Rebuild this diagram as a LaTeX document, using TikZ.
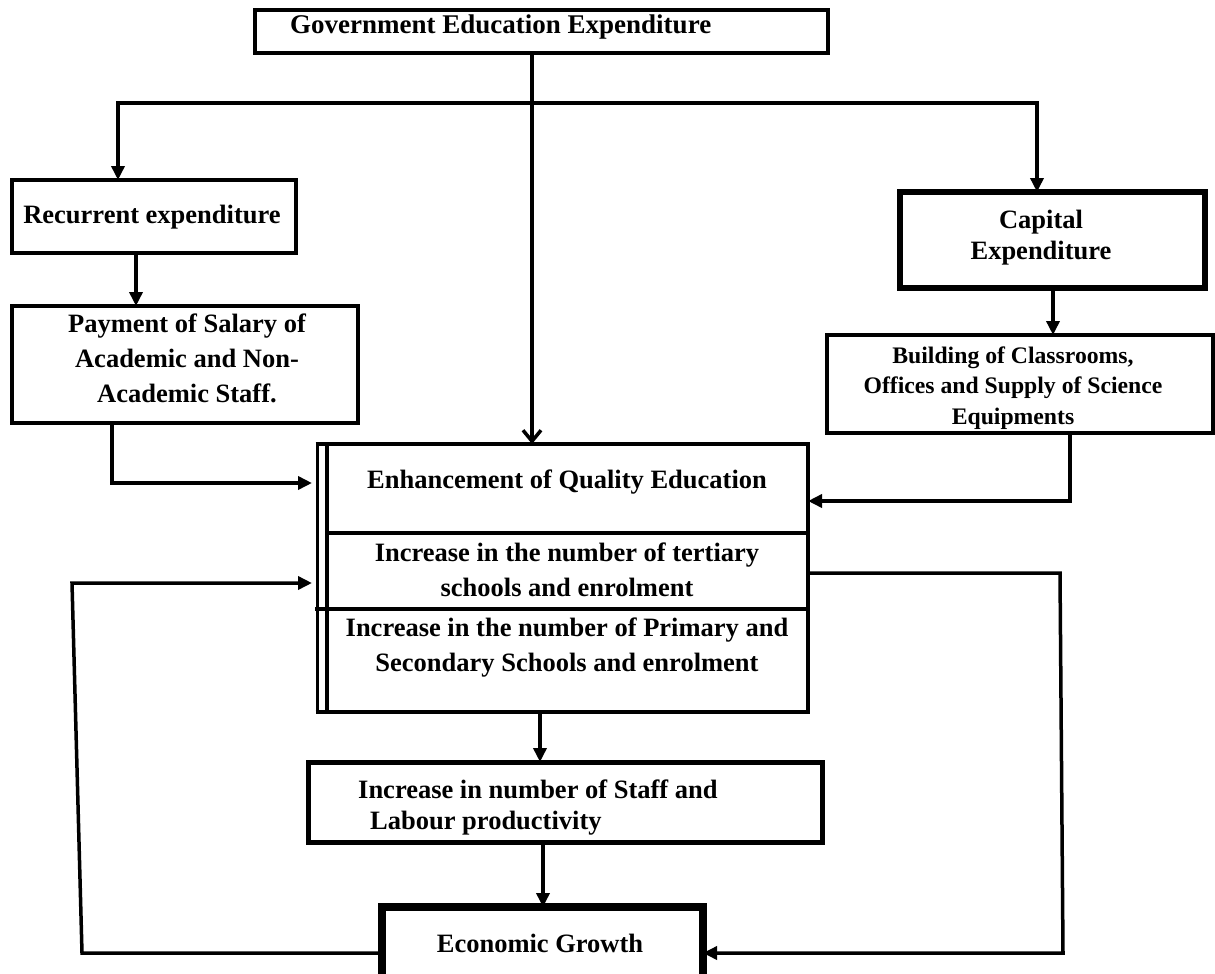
\documentclass[tikz,border=0pt]{standalone}
\usepackage{fontspec}
\setmainfont{Liberation Serif}
\usetikzlibrary{arrows.meta}
\tikzset{
  box/.style={draw, line width=4pt, inner sep=0pt, outer sep=0pt, anchor=north west, rectangle},
  txt/.style={font=\bfseries\fontsize{26.5}{35}\selectfont, align=center, inner sep=0pt},
  con/.style={line width=3.5pt, line join=miter},
  arr/.style={con, -{Triangle[length=14pt,width=13pt]}},
  varr/.style={con, -{Straight Barb[length=11pt,width=18pt,line width=3.5pt]}},
}
\begin{document}
\begin{tikzpicture}[x=1pt,y=-1pt]
\useasboundingbox (0,0) rectangle (1215,974);
\clip (0,0) rectangle (1215,974);
\fill[white] (0,0) rectangle (1215,974);

% boxes
\node[box, minimum width=573pt, minimum height=43pt] (top) at (255,10) {};
\node[box, line width=4.5pt, minimum width=284pt, minimum height=73pt] (rec) at (12,180) {};
\node[box, line width=4.5pt, minimum width=346pt, minimum height=117pt] (pay) at (12,306) {};
\node[box, line width=6pt, minimum width=305pt, minimum height=96pt] (cap) at (900,192) {};
\node[box, line width=3.5pt, minimum width=386pt, minimum height=98pt] (bld) at (827,335) {};
\node[box, minimum width=481pt, minimum height=89pt] (enh) at (327,444) {};
\node[box, minimum width=481pt, minimum height=76pt] (ter) at (327,533) {};
\node[box, minimum width=481pt, minimum height=103pt] (pri) at (327,609) {};
\node[box, line width=5pt, minimum width=514pt, minimum height=80pt] (stf) at (308,762) {};
\node[box, line width=8pt, minimum width=321pt, minimum height=100pt] (eco) at (382,907) {};

% double left edge of the central stack
\draw[line width=3pt] ([xshift=-10pt]enh.north west) -- ([xshift=-10pt]pri.south west);
\draw[line width=4pt] ([xshift=-11.5pt]enh.north west) -- (enh.north west);
\draw[line width=4pt] ([xshift=-11.5pt]pri.south west) -- (pri.south west);
\draw[line width=4pt] ([xshift=-12pt]pri.north west) -- (pri.north west);

% texts
\node[txt, anchor=west, font=\bfseries\fontsize{27}{35}\selectfont] (tTop) at (290,27) {Government Education Expenditure};
\node[txt] (tRec) at (152,217) {Recurrent expenditure};
\node[txt] (tPay) at (187,358) {Payment of Salary of\\Academic and Non-\\Academic Staff.};
\node[txt, font=\bfseries\fontsize{26.5}{31}\selectfont] (tCap) at (1041,238) {Capital\\Expenditure};
\node[txt, font=\bfseries\fontsize{23.7}{30.5}\selectfont] (tBld) at (1013,388) {Building of Classrooms,\\Offices and Supply of Science\\Equipments};
\node[txt] (tEnh) at (567,482) {Enhancement of Quality Education};
\node[txt] (tTer) at (567,570) {Increase in the number of tertiary\\schools and enrolment};
\node[txt] (tPri) at (567,648) {Increase in the number of Primary and\\Secondary Schools and enrolment};
\node[txt, align=left, anchor=west, font=\bfseries\fontsize{26.5}{31}\selectfont] (tStf) at (358,808) {Increase in number of Staff and\\\hspace*{12pt}Labour productivity};
\node[txt] (tEco) at (540,943) {Economic Growth};

% connector coordinates
\coordinate (cM) at (532,0);
\coordinate (cL) at (118,103);
\coordinate (cR) at (1037,103);
\coordinate (cRP) at (136,0);
\coordinate (cPE) at (112,483);
\coordinate (cCB) at (1053,0);
\coordinate (cBE) at (1070,501);
\coordinate (cR1) at (1060,573);
\coordinate (cR2) at (1063,953);
\coordinate (cL2) at (82,953);
\coordinate (cL1) at (72,583);
\coordinate (cPS) at (540,0);
\coordinate (cSE) at (543,0);

% connectors
\draw[varr] (top.south -| cM) -- (enh.north -| cM);
\draw[con, {Triangle[length=14pt,width=13pt]}-{Triangle[length=14pt,width=13pt]}]
  (rec.north -| cL) -- (cL) -- (cR) -- (cap.north -| cR);
\draw[arr] (rec.south -| cRP) -- (pay.north -| cRP);
\draw[arr, shorten >=15pt] (pay.south -| cPE) -- (cPE) -- (enh.west |- cPE);
\draw[arr] (cap.south -| cCB) -- (bld.north -| cCB);
\draw[arr] (bld.south -| cBE) -- (cBE) -- (enh.east |- cBE);
\draw[arr] (ter.east |- cR1) -- (cR1) -- (cR2) -- (eco.east |- cR2);
\draw[arr, shorten >=15pt] (eco.west |- cL2) -- (cL2) -- (cL1) -- (ter.west |- cL1);
\draw[arr] (pri.south -| cPS) -- (stf.north -| cPS);
\draw[arr] (stf.south -| cSE) -- (eco.north -| cSE);
\end{tikzpicture}
\end{document}
